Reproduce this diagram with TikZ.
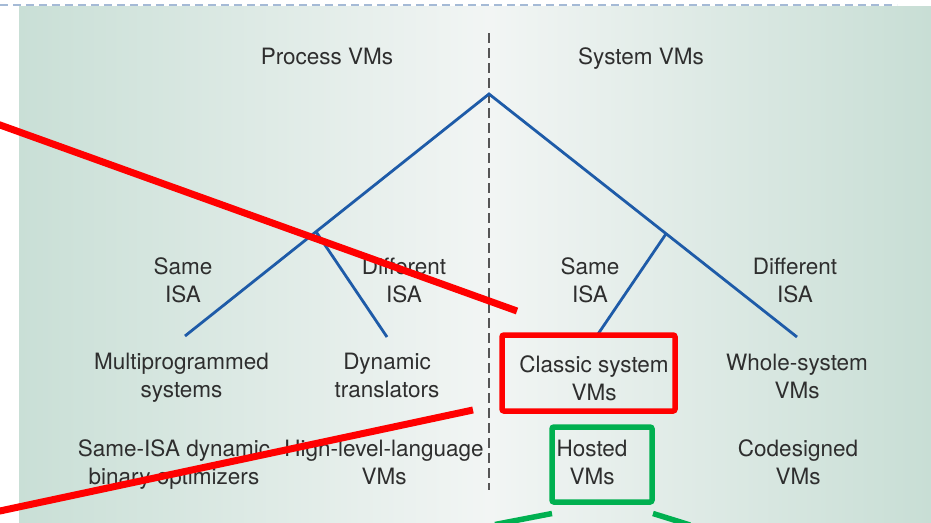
\documentclass[tikz,border=0pt]{standalone}
\usepackage{fontspec}
\setmainfont{TeX Gyre Heros}
\usetikzlibrary{calc}

\definecolor{panelside}{HTML}{C9DFD6}
\definecolor{panelmid}{HTML}{F2F5F4}
\definecolor{panelright}{HTML}{C8DED5}
\definecolor{topdash}{HTML}{A5BAD6}
\definecolor{treeblue}{HTML}{1E5BA8}
\definecolor{txtgray}{HTML}{2E2E2E}
\definecolor{divgray}{HTML}{555555}
\definecolor{markred}{HTML}{FF0000}
\definecolor{markgreen}{HTML}{00B050}

\begin{document}
\begin{tikzpicture}[x=1pt,y=-1pt,
  lbl/.style={font=\fontsize{22.5}{28}\selectfont, text=txtgray, align=center, inner sep=0pt},
  branch/.style={draw=treeblue, line width=2.8pt},
  divider/.style={draw=divgray, line width=1.6pt, dash pattern=on 10pt off 5pt},
  topline/.style={draw=topdash, line width=2pt, dash pattern=on 8pt off 5pt},
  redmark/.style={draw=markred, line width=7pt},
  greenmark/.style={draw=markgreen, line width=5.5pt},
  redbox/.style={draw=markred, line width=5.5pt, rounded corners=2pt, inner sep=0pt,
                 minimum width=173pt, minimum height=76pt},
  greenbox/.style={draw=markgreen, line width=5.5pt, rounded corners=2pt, inner sep=0pt,
                   minimum width=100pt, minimum height=75pt}]

\useasboundingbox (0,0) rectangle (931,522);
\clip (0,0) rectangle (931,522);
\fill[white] (0,0) rectangle (931,522);

% background panel, pale in the middle
\shade[left color=panelside, right color=panelmid] (19,6) rectangle (490,522);
\shade[left color=panelmid, right color=panelright] (489.5,6) rectangle (931,522);
\draw[topline] (0,5) -- (897,5);

% divider between process and system VMs
\coordinate (divtop) at (489,33);
\coordinate (divbot) at (489,490);
\draw[divider] (divtop) -- (divbot);

% headings
\node[lbl, anchor=base] (process) at (327,64) {Process VMs};
\node[lbl, anchor=base] (system) at (641,64) {System VMs};

% taxonomy tree
\coordinate (root) at (489,94);
\coordinate (multi) at (185,336);
\coordinate (whole) at (797,337);
\coordinate (pvm) at ($(root)!0.569!(multi)$);
\coordinate (svm) at ($(root)!0.575!(whole)$);
\coordinate (dyn) at (387,337);
\coordinate (classic) at (596,337);
\draw[branch] (multi) -- (root) -- (whole);
\draw[branch] (pvm) -- (dyn);
\draw[branch] (svm) -- (classic);

% branch labels
\node[lbl] (psame) at (183,280.5) {Same\\ISA};
\node[lbl] (pdiff) at (404,280.5) {Different\\ISA};
\node[lbl] (ssame) at (590,280.5) {Same\\ISA};
\node[lbl] (sdiff) at (795,280.5) {Different\\ISA};

% leaves
\node[lbl] (lmulti) at (181.5,378) {Multiprogrammed\\systems};
\node[lbl] (ldyn) at (387,375.5) {Dynamic\\translators};
\node[lbl] (lclassic) at (594,378.5) {Classic system\\VMs};
\node[lbl] (lwhole) at (797,376.5) {Whole-system\\VMs};

% second row of examples
\node[lbl] (lopt) at (174,465) {Same-ISA dynamic\\binary optimizers};
\node[lbl] (lhll) at (384,462.5) {High-level-language\\VMs};
\node[lbl] (lhosted) at (592,462.5) {Hosted\\VMs};
\node[lbl] (lcodes) at (798,462.5) {Codesigned\\VMs};

% highlight boxes
\node[redbox] (classicbox) at (588.5,373) {};
\node[greenbox] (hostedbox) at (602,464.5) {};

% red strokes
\coordinate (ra) at (-10,121.4);
\coordinate (rb) at (517,311);
\coordinate (rc) at (-10,513.1);
\coordinate (rd) at (473,410);
\draw[redmark] (ra) -- (rb);
\draw[redmark] (rc) -- (rd);

% green strokes leaving the hosted box
\coordinate (ga) at (552,513.5);
\coordinate (gb) at (495,524.5);
\coordinate (gc) at (653,513.5);
\coordinate (gd) at (690,525);
\draw[greenmark] (ga) -- (gb);
\draw[greenmark] (gc) -- (gd);
\end{tikzpicture}
\end{document}
